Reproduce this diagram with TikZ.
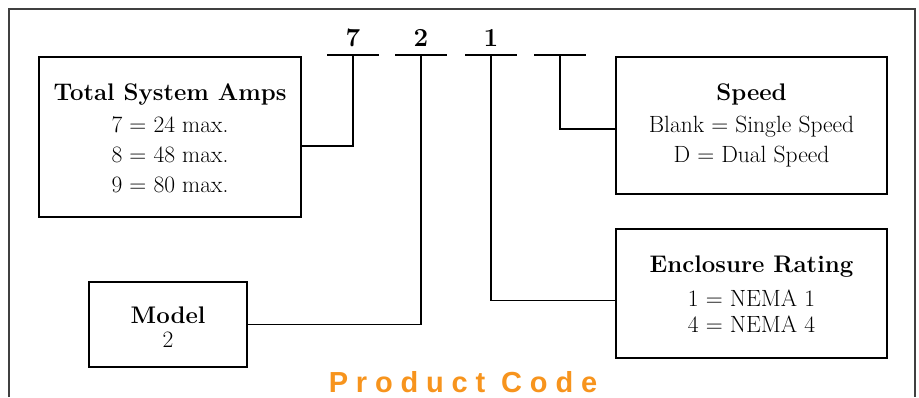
\documentclass[tikz,border=0pt]{standalone}
\usepackage{fontspec}
\newfontfamily\codefont[LetterSpace=27]{Liberation Sans}
\definecolor{codeorange}{HTML}{F7941D}
\tikzset{
  box/.style={draw, line width=1.8pt, inner sep=0pt},
  wire/.style={line width=1.8pt},
  head/.style={anchor=base, inner sep=0pt, font=\fontsize{24}{28}\selectfont\bfseries},
  item/.style={anchor=base, inner sep=0pt, font=\fontsize{23.5}{28}\selectfont},
  digit/.style={anchor=base, inner sep=0pt, font=\fontsize{26}{30}\selectfont\bfseries}
}

\begin{document}
\begin{tikzpicture}[x=1pt,y=-1pt]
    \useasboundingbox (0,0) rectangle (919,397);
    \draw[line width=1.1pt, black!75] (9,397) -- (9,9) -- (915,9) -- (915,397);

    \foreach \x/\n/\d in {353/a/7,421/b/2,491/c/1,560/d/{}}{
      \coordinate (s\n) at (\x,55);
      \draw[wire] ([xshift=-26pt]s\n) -- ([xshift=26pt]s\n);
      \node[digit] (d\n) at (\x,46) {\d};
    }

    \node[box, minimum width=262pt, minimum height=160pt] (amps) at (170,137) {};
    \node[head] (ampsT) at (170,100) {Total System Amps};
    \node[item] (amps1) at (170,132) {7 = 24 max.};
    \node[item] (amps2) at (170,162) {8 = 48 max.};
    \node[item] (amps3) at (170,192) {9 = 80 max.};
    \draw[wire] (sa) |- ([yshift=-9pt]amps.east);

    \node[box, minimum width=158pt, minimum height=85pt] (model) at (168,324.5) {};
    \node[head] (modelT) at (168,323) {Model};
    \node[item] (model1) at (168,347) {2};
    \draw[wire] (sb) |- (model.east);

    \node[box, minimum width=271pt, minimum height=137pt] (speed) at (751.5,125.5) {};
    \node[head] (speedT) at (751.5,100) {Speed};
    \node[item] (speed1) at (751.5,132) {Blank = Single Speed};
    \node[item] (speed2) at (751.5,162) {D = Dual Speed};
    \draw[wire] (sd) |- ([yshift=-3.5pt]speed.west);

    \node[box, minimum width=271pt, minimum height=129pt] (encl) at (751.5,293.5) {};
    \node[head] (enclT) at (751.5,272) {Enclosure Rating};
    \node[item] (encl1) at (751.5,306) {1 = NEMA 1};
    \node[item] (encl4) at (751.5,332) {4 = NEMA 4};
    \draw[wire] (sc) |- ([yshift=-7pt]encl.west);

    \node[anchor=base, inner sep=0pt, text=codeorange, font=\codefont\fontsize{29}{32}\selectfont\bfseries] (code) at (463,392) {Product Code};
\end{tikzpicture}
\end{document}
